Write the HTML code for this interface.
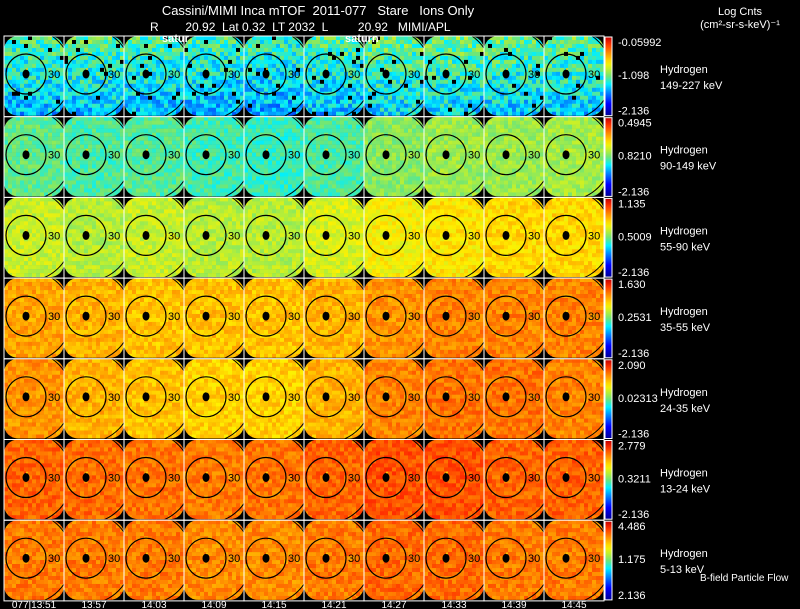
<!DOCTYPE html>
<html><head><meta charset="utf-8"><style>
html,body{margin:0;padding:0;background:#000;}
#wrap{position:relative;width:800px;height:609px;background:#000;overflow:hidden;font-family:"Liberation Sans",sans-serif;color:#fff;}
svg{position:absolute;left:0;top:0;}
text{white-space:pre;}
</style></head><body>
<div id="wrap">
<svg id="chart" width="800" height="609"></svg>
</div>
<script>
const energies=["149-227 keV","90-149 keV","55-90 keV","35-55 keV","24-35 keV","13-24 keV","5-13 keV"];
const cbTop=["-0.05992","0.4945","1.135","1.630","2.090","2.779","4.486"];
const cbMid=["-1.098","0.8210","0.5009","0.2531","0.02313","0.3211","1.175"];
const cbBot=["-2.136","-2.136","-2.136","-2.136","-2.136","-2.136","2.136"];
const times=["077|13:51","13:57","14:03","14:09","14:15","14:21","14:27","14:33","14:39","14:45"];
const r1=[.42,.43,.42,.41,.40,.42,.45,.45,.44,.44];
const r2=[.49,.47,.48,.46,.45,.47,.53,.55,.55,.56];
const r3=[.60,.58,.60,.58,.58,.62,.66,.68,.70,.70];
const r4=[.77,.75,.73,.73,.73,.75,.79,.81,.81,.81];
const r5=[.79,.75,.73,.71,.71,.75,.81,.83,.83,.81];
const r6=[.85,.84,.83,.82,.83,.85,.87,.87,.85,.85];
const r7=[.82,.82,.82,.80,.80,.82,.84,.84,.82,.82];
const levels=[r1,r2,r3,r4,r5,r6,r7];

const NS="http://www.w3.org/2000/svg";
const svg=document.getElementById('chart');
function mk(t,a,p){const e=document.createElementNS(NS,t);for(const k in a)e.setAttribute(k,a[k]);(p||svg).appendChild(e);return e;}
const stops=[[0,[0,0,150]],[.15,[0,0,255]],[.3,[0,140,255]],[.4,[0,240,255]],[.5,[110,230,120]],[.6,[200,240,40]],[.67,[255,240,0]],[.8,[255,140,0]],[.92,[255,40,0]],[1,[190,0,0]]];
function cmap(v){v=Math.max(0,Math.min(1,v));for(let i=1;i<stops.length;i++){if(v<=stops[i][0]){const a=stops[i-1],b=stops[i],t=(v-a[0])/(b[0]-a[0]);const c=a[1].map((x,j)=>Math.round(x+(b[1][j]-x)*t));return `rgb(${c})`;}}return 'rgb(190,0,0)';}
function hash(a,b,c){let h=(a*374761393+b*668265263+c*2147483647)|0;h=(h^(h>>>13))*1274126177|0;return ((h^(h>>>16))>>>0)/4294967295;}
const X0=4,CW=60,Y0=36,RH=80.7,NX=15,NY=20;
const xs=c=>X0+c*CW, ys=r=>Y0+r*RH;

function txt(x,y,s,size,name,anchor,weight){const t=mk('text',{x:x,y:y,fill:'#fff','font-size':size,'font-family':'Liberation Sans, sans-serif','text-anchor':anchor||'start','font-weight':weight||'normal'});t.textContent=s;return t;}
txt(318,15,"Cassini/MIMI Inca mTOF  2011-077   Stare   Ions Only",13,'title','middle');
txt(150,31,"R        20.92  Lat 0.32  LT 2032  L         20.92   MIMI/APL",12,'subtitle','start');
txt(740,15,"Log Cnts",11,'colorbar-title','middle');
txt(740,28,"(cm²-sr-s-keV)⁻¹",11,'colorbar-units','middle');

const defs=mk('defs',{});
const grad=mk('linearGradient',{id:'cb',x1:0,y1:1,x2:0,y2:0},defs);
for(let i=0;i<=20;i++){mk('stop',{offset:i/20,'stop-color':cmap(i/20)},grad);}
const cp=mk('clipPath',{id:'pc'},defs);mk('rect',{x:0,y:0,width:CW,height:RH-1,rx:14,ry:14},cp);

for(let r=0;r<7;r++){
  const y0=ys(r);
  for(let c=0;c<10;c++){
    const x0=xs(c);const lv=levels[r][c];
    const g=mk('g',{transform:`translate(${x0},${y0})`,'clip-path':'url(#pc)'});
    
    
    const pw=CW/NX,ph=(RH-1)/NY;
    for(let j=0;j<NY;j++)for(let i=0;i<NX;i++){
      let v=lv+(hash(r*100+c,i,j)-0.5)*(r==0?0.2:0.1);
      if(r==0) v-= (j/NY-0.4)*0.14;
      let col=cmap(v);
      if(r==0 && hash(c,i*7,j*3+r)>0.965) col='#000';
      mk('rect',{x:(i*pw).toFixed(2),y:(j*ph).toFixed(2),width:(pw+0.3).toFixed(2),height:(ph+0.3).toFixed(2),fill:col},g);
    }
    mk('circle',{cx:22,cy:38,r:20,fill:'none',stroke:'#000','stroke-width':1.2},g);
    mk('circle',{cx:22,cy:38,r:46,fill:'none',stroke:'#000','stroke-width':1},g);
    mk('ellipse',{cx:22,cy:38,rx:3.5,ry:4.5,fill:'#000'},g);
    mk('circle',{cx:23,cy:33,r:1,fill:'#fc0'},g);
    const t=mk('text',{x:44,y:42,'font-size':11,fill:'#000','font-family':'Liberation Sans, sans-serif'},g);t.textContent='30';
    mk('rect',{x:x0,y:y0,width:CW,height:RH,fill:'none',stroke:'#fff','stroke-width':1});
  }
  const cb=mk('rect',{x:605,y:y0+1,width:7,height:RH-2,fill:'url(#cb)',stroke:'#fff','stroke-width':1});
  
  
  txt(618,y0+10,cbTop[r],11,'colorbar-max','start');
  txt(618,y0+43,cbMid[r],11,'colorbar-mid','start');
  txt(618,y0+RH-2,cbBot[r],11,'colorbar-min','start');
  txt(660,y0+37,"Hydrogen",11,'species-label','start');
  txt(660,y0+53,energies[r],11,'energy-label','start');
}
txt(162,42,"satur",11,'saturn-label-1','start','bold');
txt(345,42,"saturn",11,'saturn-label-2','start','bold');
txt(700,581,"B-field Particle Flow",10,'legend-bfield','start');
for(let c=0;c<10;c++){txt(xs(c)+30,608,times[c],10,'time-label','middle');}
</script>
</body></html>
